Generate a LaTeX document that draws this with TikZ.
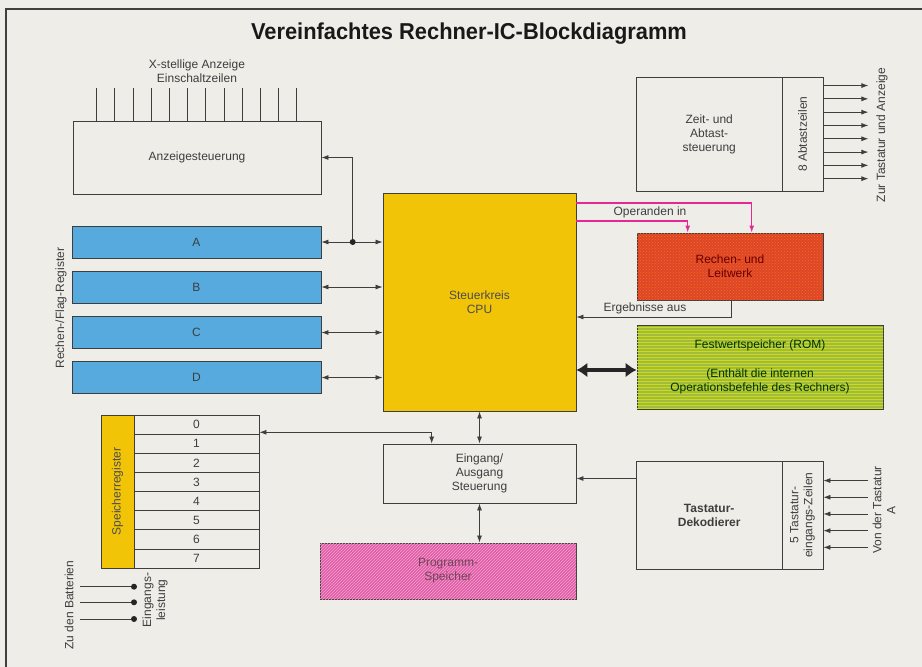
\documentclass[tikz,border=0pt]{standalone}
\usepackage{fontspec}
\setmainfont{Liberation Sans}
\newfontfamily\titlefont[FakeStretch=0.95]{Liberation Sans}
\usetikzlibrary{arrows.meta,patterns}

\definecolor{paper}{RGB}{238,237,232}
\definecolor{ink}{RGB}{62,62,62}
\definecolor{regblue}{RGB}{86,170,222}
\definecolor{gold}{RGB}{241,196,8}
\definecolor{alured}{RGB}{222,70,44}
\definecolor{romgreen}{RGB}{160,188,58}
\definecolor{progpink}{RGB}{226,92,168}
\definecolor{oppink}{RGB}{230,40,150}

\tikzset{
  blk/.style={draw=ink, line width=0.9pt, inner sep=0pt, align=center},
  arr/.style={-{Latex[length=7pt,width=5pt]}, line width=0.8pt, draw=ink},
  biarr/.style={{Latex[length=7pt,width=5pt]}-{Latex[length=7pt,width=5pt]}, line width=0.8pt, draw=ink},
  pinkarr/.style={-{Latex[length=7pt,width=5pt]}, line width=1.1pt, draw=oppink},
  fatarr/.style={{Latex[length=11pt,width=15pt]}-{Latex[length=11pt,width=15pt]}, line width=4.5pt, draw=black!85},
  lbl/.style={inner sep=1pt, align=center},
  dot/.style={circle, fill=black!85, inner sep=0pt, minimum size=6pt}
}

\begin{document}
\begin{tikzpicture}[x=1pt, y=-1pt, font=\fontsize{12}{14}\selectfont, text=ink]
  \fill[paper] (0,0) rectangle (922,667);
  \useasboundingbox (0,0) rectangle (922,667);
  \draw[line width=1.6pt, draw=black!75] (922,9) -- (6,9) -- (6,667);

  \node[font=\titlefont\bfseries\fontsize{23}{26}\selectfont, text=black!90] (title) at (469,34) {Vereinfachtes Rechner-IC-Blockdiagramm};

  % display control and registers
  \node[blk, minimum width=248pt, minimum height=73pt] (disp) at (197,157.5) {Anzeigesteuerung};
  \node[lbl] (digits) at (197,71.5) {X-stellige Anzeige\\Einschaltzeilen};
  \foreach \i in {0,...,11}
    \draw[ink, line width=0.8pt] ([xshift={24+18.2*\i}]disp.north west) -- ++(0,-33);

  \foreach \r/\y in {A/242,B/287,C/332.5,D/377.5}
    \node[blk, fill=regblue, minimum width=249pt, minimum height=32pt] (reg\r) at (196.5,\y) {\r};
  \node[lbl, rotate=90] (reglbl) at (61,308) {Rechen-/Flag-Register};

  % CPU
  \node[blk, fill=gold, minimum width=193pt, minimum height=218pt, text=black!70] (cpu) at (479.5,302) {Steuerkreis\\CPU};

  \coordinate (bus) at (352.7,242);
  \draw[biarr] (regA.east) -- (cpu.west |- regA.east);
  \draw[arr] (bus) |- (disp.east);
  \node[dot] (busdot) at (bus) {};
  \foreach \r in {B,C,D}
    \draw[biarr] (reg\r.east) -- (cpu.west |- reg\r.east);

  % timing
  \node[blk, minimum width=146.3pt, minimum height=114pt] (timing) at (709.2,134) {Zeit- und\\Abtast-\\steuerung};
  \node[blk, minimum width=40.7pt, minimum height=114pt] (scan) at (802.6,134) {};
  \node[lbl, rotate=90] (scanlbl) at (scan) {8 Abtastzeilen};
  \foreach \i in {0,...,7} {
    \path (scan.north east) ++(0,{9+13.3*\i}) coordinate (s\i);
    \draw[arr] (s\i) -- ++(45,0);
  }
  \node[lbl, rotate=90] (scanout) at (882,135) {Zur Tastatur und Anzeige};

  % ALU
  \node[blk, fill=alured, postaction={pattern=crosshatch dots, pattern color=orange!70!alured},
    minimum width=186pt, minimum height=67pt, text=red!40!black] (alu) at (730,266.5) {Rechen- und\\Leitwerk};
  \coordinate (opA) at (751.7,203);
  \coordinate (opB) at (687.7,221);
  \draw[pinkarr] (cpu.east |- opA) -| (alu.north -| opA);
  \draw[pinkarr] (cpu.east |- opB) -| (alu.north -| opB);
  \node[lbl] (oplbl) at (650,212.5) {Operanden in};
  \coordinate (res) at (731.7,317);
  \draw[arr] (alu.south -| res) |- (cpu.east |- res);
  \node[lbl] (reslbl) at (645,308.5) {Ergebnisse aus};

  % ROM
  \node[blk, fill=romgreen, postaction={pattern=horizontal lines, pattern color=romgreen!55!yellow},
    minimum width=246pt, minimum height=84pt, text=green!20!black] (rom) at (760,367)
    {Festwertspeicher (ROM)\\[15pt](Enthält die internen\\Operationsbefehle des Rechners)};
  \draw[fatarr] (cpu.east |- 0,370) -- (rom.west |- 0,370);

  % I/O and program memory
  \node[blk, minimum width=193pt, minimum height=59pt] (io) at (479.5,473.5) {Eingang/\\Ausgang\\Steuerung};
  \node[blk, fill=progpink, postaction={pattern=north east lines, pattern color=progpink!55!white},
    minimum width=256pt, minimum height=56pt, text=magenta!35!black] (prog) at (448,571) {Programm-\\Speicher};
  \draw[biarr] (cpu.south) -- (io.north);
  \draw[biarr] (io.south) -- (prog.north -| io.south);

  % memory registers
  \node[blk, fill=gold, minimum width=33pt, minimum height=153.2pt] (mem) at (117.5,491.6) {};
  \node[lbl, rotate=90, text=black!70] (memlbl) at (mem) {Speicherregister};
  \foreach \i in {0,...,7}
    \node[blk, minimum width=125pt, minimum height=19.15pt] (row\i) at (196.5,{415+19.15*(\i+0.5)}) {\i};
  \coordinate (mio) at (431.7,432.3);
  \draw[biarr] (row0.east |- mio) -| (io.north -| mio);

  % keyboard
  \node[blk, minimum width=146.3pt, minimum height=108pt] (kbd) at (709.2,515) {\bfseries Tastatur-\\\bfseries Dekodierer};
  \node[blk, minimum width=40.7pt, minimum height=108pt] (kbdin) at (802.6,515) {};
  \node[lbl, rotate=90] (kbdinlbl) at (kbdin) {5 Tastatur-\\eingangs-Zeilen};
  \foreach \i in {0,...,4} {
    \path (kbdin.north east) ++(0,{20+16.7*\i}) coordinate (k\i);
    \draw[arr] ([xshift=45pt]k\i) -- (k\i);
  }
  \node[lbl, rotate=90] (kbdsrc) at (884,510) {Von der Tastatur\\A};
  \coordinate (kio) at (600,478.5);
  \draw[arr] (kbd.west |- kio) -- (io.east |- kio);

  % batteries
  \foreach \y [count=\n] in {586.7,602.3,619} {
    \coordinate (bat\n) at (80,\y);
    \node[dot] (pin\n) at (134,\y) {};
    \draw[ink, line width=0.8pt] (bat\n) -- (pin\n);
  }
  \node[lbl, rotate=90] (batlbl) at (69,605) {Zu den Batterien};
  \node[lbl, rotate=90] (pwrlbl) at (155,600) {Eingangs-\\leistung};
\end{tikzpicture}
\end{document}
